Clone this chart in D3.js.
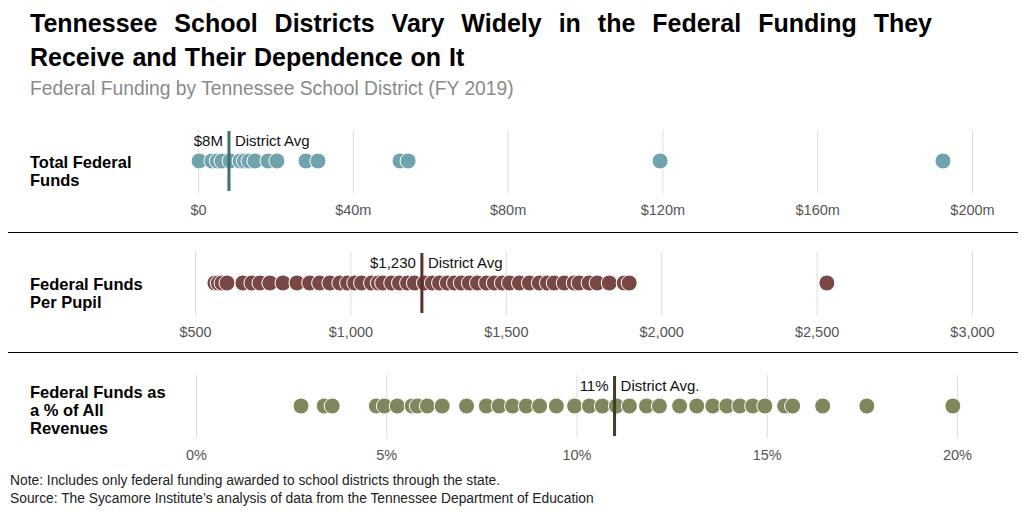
<!DOCTYPE html>
<html><head><meta charset="utf-8">
<script src="https://cdn.jsdelivr.net/npm/d3@7"></script>
<style>body{margin:0;background:#fff}svg{font-family:"Liberation Sans",Arial,Helvetica,sans-serif}</style>
</head><body><svg id="c" width="1024" height="512"></svg>
<script>
// Data
const totalFunds = [0.3,3.6,5.0,6.2,8.3,10.9,12.0,13.2,14.7,18.1,20.4,27.9,31.0,52.2,54.3,119.4,192.5];
const perPupil = [564,575,587,603,654,683,709,741,783,828,869,901,934,966,991,1014,1036,1068,1090,1104,1133,1158,1184,1206,1238,1264,1287,1312,1335,1357,1383,1409,1438,1463,1489,1512,1544,1576,1608,1634,1656,1688,1720,1736,1768,1794,1833,1881,1897,2533];
const pctRevenue = [2.76,3.37,3.58,4.74,4.95,5.29,5.68,5.82,6.08,6.47,7.11,7.63,7.97,8.32,8.68,9.03,9.47,9.95,10.34,10.68,11.05,11.39,11.84,12.18,12.71,13.16,13.58,13.95,14.29,14.63,14.95,15.47,15.68,16.47,17.63,19.89];
const totalTicks = [0,40,80,120,160,200];
const pupilTicks = [500,1000,1500,2000,2500,3000];
const pctTicks = [0,5,10,15,20];
const averages = [8,1230,11];
const avgLabels = ["$8M","$1,230","11%"];
const avgNames = ["District Avg","District Avg","District Avg."];
const rowLabels = [["Total Federal","Funds"],["Federal Funds","Per Pupil"],["Federal Funds as","a % of All","Revenues"]];

const svg = d3.select("#c");
svg.append("text").attr("x",30).attr("y",32).attr("font-size",25).attr("font-weight","bold").attr("fill","#000")
  .attr("word-spacing",10)
  .text("Tennessee School Districts Vary Widely in the Federal Funding They");
svg.append("text").attr("x",30).attr("y",66).attr("font-size",25).attr("font-weight","bold").attr("fill","#000")
  .attr("word-spacing",1)
  .text("Receive and Their Dependence on It");
svg.append("text").attr("x",30).attr("y",95).attr("font-size",19.3).attr("fill","#8a8a8a")
  .text("Federal Funding by Tennessee School District (FY 2019)");

const panels = [
  {data: totalFunds, ticks: totalTicks, domain:[0,200], range:[198,972], fmt: d=> d===0?"$0":"$"+d+"m",
   top:130, color:"#70a4ad", avgColor:"#3f6e74"},
  {data: perPupil, ticks: pupilTicks, domain:[500,3000], range:[195,972], fmt: d=>"$"+d3.format(",")(d),
   top:252, color:"#7a4844", avgColor:"#5a2f2c"},
  {data: pctRevenue, ticks: pctTicks, domain:[0,20], range:[196,957], fmt: d=>d+"%",
   top:375, color:"#82865c", avgColor:"#3c3e29"}
];

panels.forEach((p,i)=>{
  const x = d3.scaleLinear().domain(p.domain).range(p.range);
  const g = svg.append("g");
  const cy = p.top + 31;
  const axis = d3.axisBottom(x).tickValues(p.ticks).tickFormat(p.fmt).tickSize(-63).tickPadding(12);
  const ax = g.append("g").attr("transform",`translate(0,${p.top+63})`).call(axis);
  ax.select(".domain").remove();
  ax.selectAll(".tick line").attr("stroke","#dcdcdc");
  ax.selectAll(".tick text").attr("fill","#555").attr("font-size",14.5).attr("font-family","Liberation Sans, Arial, sans-serif");
  // row label
  const lab = g.append("text").attr("x",30).attr("font-size",16.5).attr("font-weight","bold").attr("fill","#000");
  const n = rowLabels[i].length;
  const y0 = n === 2 ? cy + 7 : cy - 8;
  rowLabels[i].forEach((t,k)=> lab.append("tspan").attr("x",30).attr("y",y0+k*18).text(t));
  // dots
  g.append("g").selectAll("circle").data(p.data).join("circle")
    .attr("cx",d=>x(d)).attr("cy",cy).attr("r",8)
    .attr("fill",p.color).attr("stroke","#fff").attr("stroke-width",1);
  // average
  const ax0 = x(averages[i]);
  const lv = g.append("text").attr("x",ax0-6).attr("y",p.top+16).attr("text-anchor","end").attr("font-size",15).attr("fill","#111").text(avgLabels[i]);
  const ln = g.append("text").attr("x",ax0+6).attr("y",p.top+16).attr("font-size",15).attr("fill","#111").text(avgNames[i]);
  [lv,ln].forEach(t=>{
    const b = t.node().getBBox();
    g.insert("rect", function(){return t.node();}).attr("x",b.x-1).attr("y",b.y).attr("width",b.width+2).attr("height",b.height).attr("fill","#fff");
  });
  g.append("line").attr("x1",ax0).attr("x2",ax0).attr("y1",p.top+1).attr("y2",p.top+61)
    .attr("stroke",p.avgColor).attr("stroke-width",3);
});

[232,352].forEach(y=> svg.append("line").attr("x1",8).attr("x2",1018).attr("y1",y+0.5).attr("y2",y+0.5).attr("stroke","#000").attr("stroke-width",1));

svg.append("text").attr("x",10).attr("y",485).attr("font-size",13.8).attr("fill","#222")
  .text("Note: Includes only federal funding awarded to school districts through the state.");
svg.append("text").attr("x",10).attr("y",503).attr("font-size",13.8).attr("fill","#222")
  .text("Source: The Sycamore Institute’s analysis of data from the Tennessee Department of Education");
</script></body></html>
